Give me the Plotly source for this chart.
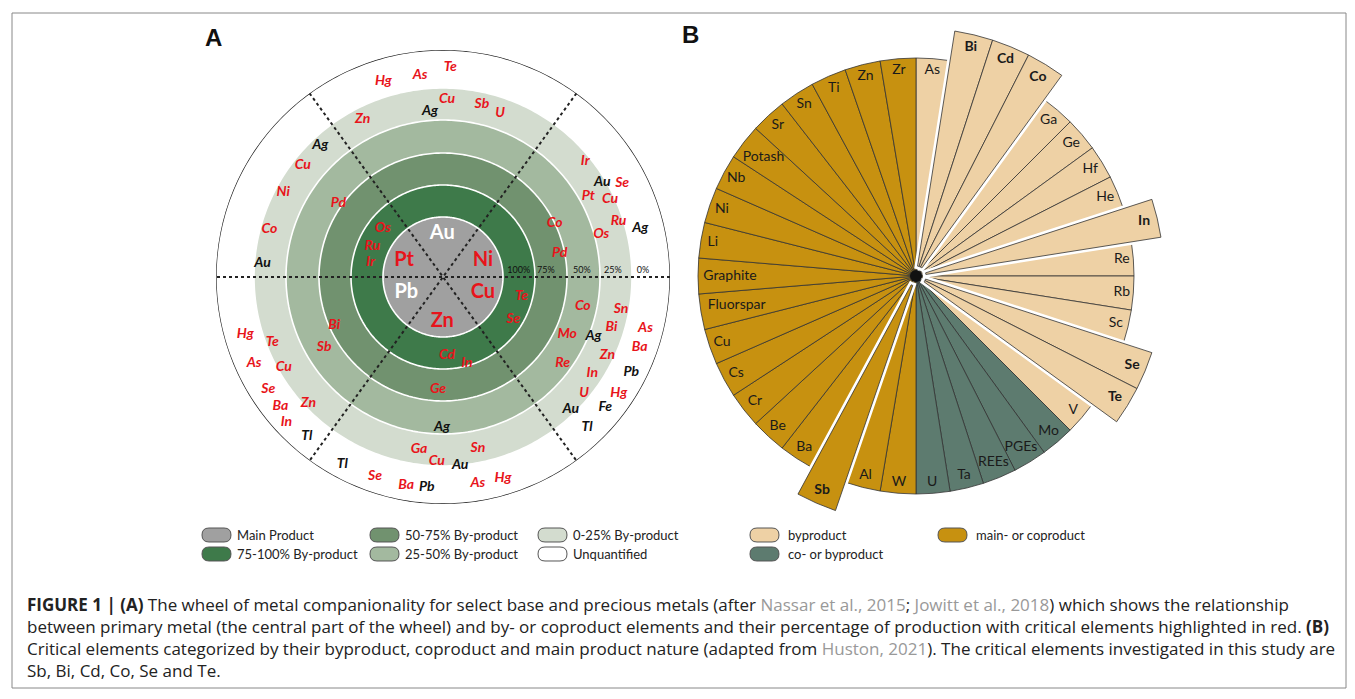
import numpy as np
import plotly.graph_objects as go

# page body has an 8px margin: figure is placed at (OX, OY) in the window
OX, OY = 8, 8
FW, FH = 1339, 683

# ---------------- Panel A data ----------------
ring_names = ['Unquantified', '0-25% By-product', '25-50% By-product',
              '50-75% By-product', '75-100% By-product', 'Main Product']
ring_outer = [227, 189, 157, 124, 92, 60]
ring_colors = ['#ffffff', '#d3dccf', '#a3b99f', '#71926f', '#3e7a4a', '#a0a0a0']

pct_labels = ['100%', '75%', '50%', '25%', '0%']
pct_theta = [4.6, 3.3, 2.5, 2.0, 1.7]
pct_r = [76, 103, 139, 170, 200]

divider_angles = [0, 54, 126]

main_names = ['Au', 'Ni', 'Cu', 'Zn', 'Pb', 'Pt']
main_critical = [0, 1, 1, 1, 0, 1]
main_theta = [91, 21.8, -21.8, -91, -156.6, 157.7]
main_r = [43, 43, 43, 45, 40, 42]

byp_names = ['Te', 'As', 'Hg', 'Cu', 'Ag', 'Sb', 'U', 'Zn',
             'Ag', 'Cu', 'Ni', 'Co', 'Au', 'Pd', 'Os', 'Ru', 'Ir',
             'Ir', 'Au', 'Se', 'Pt', 'Cu', 'Ru', 'Ag', 'Os', 'Co', 'Pd',
             'Te', 'Se', 'Co', 'Mo', 'Ag', 'Re', 'Sn', 'Bi', 'Zn', 'In', 'U', 'Au',
             'As', 'Ba', 'Pb', 'Hg', 'Fe', 'Tl',
             'Cd', 'In', 'Ge', 'Ag', 'Ga', 'Sn', 'Cu', 'Au', 'Tl', 'Se', 'Ba', 'Pb', 'As', 'Hg',
             'Bi', 'Sb', 'Hg', 'Te', 'As', 'Cu', 'Se', 'Ba', 'Zn', 'In', 'Tl']
byp_critical = [1, 1, 1, 1, 0, 1, 1, 1,
                0, 1, 1, 1, 0, 1, 1, 1, 1,
                1, 0, 1, 1, 1, 1, 0, 1, 1, 1,
                1, 1, 1, 1, 0, 1, 1, 1, 1, 1, 1, 0,
                1, 1, 0, 1, 0, 0,
                1, 1, 1, 0, 1, 1, 1, 0, 0, 1, 1, 0, 1, 1,
                1, 1, 1, 1, 1, 1, 1, 1, 1, 1, 0]
byp_theta = [88, 96.5, 107, 88.7, 94.5, 77.3, 70.7, 117,
             133, 141.6, 152, 164.6, 175.6, 144.8, 141.3, 156.4, 168.4,
             39, 30.6, 27.5, 28.9, 24.8, 17.4, 13.7, 15.2, 25.7, 11.6,
             -14.2, -31, -12.1, -25, -21.7, -36, -10.5, -16.8, -25.4, -33, -39.5, -46,
             -14.4, -19.8, -26.8, -33.6, -38.7, -46.2,
             -87, -74.6, -92.5, -90.4, -97.9, -78.5, -91.9, -84.8, -118.2, -108.8, -100, -94.4, -80.4, -73.4,
             -156.2, -149.5, -163.7, -158.9, -155.3, -150.5, -147.1, -141.4, -136.7, -137, -130.4]
byp_r = [210, 203, 204, 178, 166, 177, 173, 177,
         180, 179, 181, 180, 181, 128, 77, 77, 74,
         183, 185, 202, 166, 184, 184, 203, 164, 124, 119,
         81, 82, 143, 137, 162, 148, 181, 176, 182, 178, 183, 184,
         209, 209, 211, 211, 208, 208,
         79, 90, 113, 150, 174, 175, 185, 189, 213, 211, 212, 211, 209, 210,
         119, 138, 206, 183, 208, 183, 208, 208, 185, 214, 210]

# ---------------- Panel B data ----------------
b_names = ['As', 'Bi', 'Cd', 'Co', 'Ga', 'Ge', 'Hf', 'He', 'In', 'Re', 'Rb', 'Sc', 'Se', 'Te', 'V',
           'Mo', 'PGEs', 'REEs', 'Ta', 'U',
           'W', 'Al', 'Sb', 'Ba', 'Be', 'Cr', 'Cs', 'Cu', 'Fluorspar', 'Graphite', 'Li', 'Ni',
           'Nb', 'Potash', 'Sr', 'Sn', 'Ti', 'Zn', 'Zr']
b_group = ['byproduct'] * 15 + ['co- or byproduct'] * 5 + ['main- or coproduct'] * 19
b_critical = ['Bi', 'Cd', 'Co', 'In', 'Se', 'Te', 'Sb']
b_group_names = ['byproduct', 'co- or byproduct', 'main- or coproduct']
b_group_colors = ['#eed1a5', '#5d7b6f', '#c79110']

# ---------------- style / geometry ----------------
RED = '#e8141b'
CA = (443, 277)
RA = 227
CB = (916, 276)
RB_RANGE = 255
RB_MAIN = 218
RB_CRIT = 248
B_BASE = 10


def px(x, y):
    return (x - OX) / FW, 1 - (y - OY) / FH


def dom(c, r):
    xa, ya = px(c[0] - r, c[1] + r)
    xb, yb = px(c[0] + r, c[1] - r)
    return dict(x=[xa, xb], y=[ya, yb])


fig = go.Figure()

# ---- Panel A: rings as filled disks ----
circ = np.linspace(0, 360, 361)
for i, (nm, rr, col) in enumerate(zip(ring_names, ring_outer, ring_colors)):
    fig.add_trace(go.Scatterpolar(
        r=[rr] * len(circ), theta=circ, mode='lines', fill='toself', fillcolor=col,
        line=dict(color='#222222' if i == 0 else 'white', width=1.3 if i == 0 else 1.6),
        hoverinfo='skip', showlegend=False, subplot='polar'))

for a in divider_angles:
    fig.add_trace(go.Scatterpolar(
        r=[RA, 0, RA], theta=[a, 0, a + 180], mode='lines',
        line=dict(color='#222222', width=2, dash='dot'),
        hoverinfo='skip', showlegend=False, subplot='polar'))

fig.add_trace(go.Scatterpolar(
    r=main_r, theta=main_theta, mode='text', text=main_names,
    textfont=dict(family='Lato', size=20, weight='bold',
                  color=[RED if c else 'white' for c in main_critical]),
    hoverinfo='skip', showlegend=False, subplot='polar'))

fig.add_trace(go.Scatterpolar(
    r=byp_r, theta=byp_theta, mode='text', text=byp_names,
    textfont=dict(family='Lato', size=14, weight='bold', style='italic',
                  color=[RED if c else '#111111' for c in byp_critical]),
    hoverinfo='skip', showlegend=False, subplot='polar'))

fig.add_trace(go.Scatterpolar(
    r=pct_r, theta=pct_theta, mode='text', text=pct_labels,
    textfont=dict(family='Lato', size=9, color='#111111'),
    hoverinfo='skip', showlegend=False, subplot='polar'))

# ---- Panel B ----
n_right = sum(1 for g in b_group if g != 'main- or coproduct')
n_left = len(b_names) - n_right
b_width, b_theta = [], []
for i, g in enumerate(b_group):
    if g != 'main- or coproduct':
        w = 180 / n_right
        b_theta.append(w * (i + 0.5))
    else:
        w = 180 / n_left
        b_theta.append(180 + w * (i - n_right + 0.5))
    b_width.append(w)
b_color = [b_group_colors[b_group_names.index(g)] for g in b_group]
is_crit = [n in b_critical for n in b_names]

norm = [i for i in range(len(b_names)) if not is_crit[i]]
crit = [i for i in range(len(b_names)) if is_crit[i]]

fig.add_trace(go.Barpolar(
    r=[RB_MAIN] * len(norm), theta=[b_theta[i] for i in norm], width=[b_width[i] for i in norm],
    marker=dict(color=[b_color[i] for i in norm], line=dict(color='#333333', width=0.8)),
    hoverinfo='skip', showlegend=False, subplot='polar2'))
fig.add_trace(go.Barpolar(
    r=[RB_CRIT - B_BASE] * len(crit), base=[B_BASE] * len(crit),
    theta=[b_theta[i] for i in crit], width=[b_width[i] for i in crit],
    marker=dict(color=[b_color[i] for i in crit], line=dict(color='white', width=6)),
    hoverinfo='skip', showlegend=False, subplot='polar2'))
fig.add_trace(go.Barpolar(
    r=[RB_CRIT - B_BASE] * len(crit), base=[B_BASE] * len(crit),
    theta=[b_theta[i] for i in crit], width=[b_width[i] for i in crit],
    marker=dict(color=[b_color[i] for i in crit], line=dict(color='#333333', width=0.8)),
    hoverinfo='skip', showlegend=False, subplot='polar2'))

fig.add_trace(go.Scatterpolar(
    r=[0], theta=[0], mode='markers', marker=dict(color='#111111', size=12),
    hoverinfo='skip', showlegend=False, subplot='polar2'))

# labels B: centred, pulled inward so that the horizontal text box fits in its sector
lab_r, lab_text = [], []
for i, n in enumerate(b_names):
    t = np.radians(b_theta[i])
    w_txt = 7.0 * len(n)
    h_txt = 14
    r_fit = 243 if is_crit[i] else 214
    rr = r_fit - 0.5 * w_txt * abs(np.sin(t)) - 0.5 * h_txt * abs(np.cos(t))
    lab_r.append(rr)
    lab_text.append('<b>%s</b>' % n if is_crit[i] else n)
fig.add_trace(go.Scatterpolar(
    r=lab_r, theta=b_theta, mode='text', text=lab_text, textposition='middle center',
    textfont=dict(family='Lato', size=14, color='#1a1a1a'),
    hoverinfo='skip', showlegend=False, subplot='polar2'))

hidden_ax = dict(visible=False, showgrid=False, showline=False, showticklabels=False, ticks='')
fig.update_layout(
    width=FW, height=FH, margin=dict(l=0, r=0, t=0, b=0),
    paper_bgcolor='white', plot_bgcolor='white',
    polar=dict(domain=dom(CA, RA), bgcolor='rgba(0,0,0,0)',
               radialaxis=dict(range=[0, RA], **hidden_ax),
               angularaxis=dict(direction='counterclockwise', rotation=0, **hidden_ax)),
    polar2=dict(domain=dom(CB, RB_RANGE), bgcolor='rgba(0,0,0,0)', barmode='overlay',
                radialaxis=dict(range=[0, RB_RANGE], **hidden_ax),
                angularaxis=dict(direction='clockwise', rotation=90, **hidden_ax)),
)

shapes = []
annotations = []


def pill(x0, yc, col):
    w, h = 29, 14
    r = h / 2
    x1 = x0 + w
    y0, y1 = yc - h / 2, yc + h / 2

    def P(x, y):
        a, b = px(x, y)
        return '%.5f,%.5f' % (a, b)
    path = ('M' + P(x0 + r, y0) + ' L' + P(x1 - r, y0) + ' Q' + P(x1, y0) + ' ' + P(x1, yc) +
            ' Q' + P(x1, y1) + ' ' + P(x1 - r, y1) + ' L' + P(x0 + r, y1) +
            ' Q' + P(x0, y1) + ' ' + P(x0, yc) + ' Q' + P(x0, y0) + ' ' + P(x0 + r, y0) + ' Z')
    return dict(type='path', xref='paper', yref='paper', path=path, fillcolor=col,
                line=dict(color='#555555', width=1))


legA = list(reversed(ring_names))
legA_col = list(reversed(ring_colors))
colsA = [202, 370, 538]
rows = [535, 554]
for k, (nm, col) in enumerate(zip(legA, legA_col)):
    cx, ry = colsA[k // 2], rows[k % 2]
    shapes.append(pill(cx, ry, col))
    xx, yy = px(cx + 33, ry)
    annotations.append(dict(x=xx, y=yy, xref='paper', yref='paper', text=nm, showarrow=False,
                            xanchor='left', yanchor='middle',
                            font=dict(family='Lato', size=13, color='#222222')))

legB_order = ['byproduct', 'co- or byproduct', 'main- or coproduct']
colsB = [750, 938]
for k, nm in enumerate(legB_order):
    cx, ry = colsB[k // 2], rows[k % 2]
    col = b_group_colors[b_group_names.index(nm)]
    shapes.append(pill(cx, ry, col))
    xx, yy = px(cx + 36, ry)
    annotations.append(dict(x=xx, y=yy, xref='paper', yref='paper', text=nm, showarrow=False,
                            xanchor='left', yanchor='middle',
                            font=dict(family='Lato', size=13, color='#222222')))

for t, (x, y) in [('A', (213, 37)), ('B', (690, 35))]:
    xx, yy = px(x, y)
    annotations.append(dict(x=xx, y=yy, xref='paper', yref='paper', text='<b>%s</b>' % t,
                            showarrow=False, xanchor='center', yanchor='middle',
                            font=dict(family='Liberation Sans', size=24, color='#111111')))

x0, y0 = px(12, 13)
x1, y1 = px(1346, 688)
shapes.append(dict(type='rect', xref='paper', yref='paper', x0=x0, y0=y1, x1=x1, y1=y0,
                   line=dict(color='#888888', width=1), fillcolor='rgba(0,0,0,0)'))

G = '<span style="color:#999999">%s</span>'
caption = [
    '<b>FIGURE 1 | (A)</b> The wheel of metal companionality for select base and precious metals (after '
    + G % 'Nassar et al., 2015' + '; ' + G % 'Jowitt et al., 2018' + ') which shows the relationship',
    'between primary metal (the central part of the wheel) and by- or coproduct elements and their '
    'percentage of production with critical elements highlighted in red. <b>(B)</b>',
    'Critical elements categorized by their byproduct, coproduct and main product nature (adapted from '
    + G % 'Huston, 2021' + '). The critical elements investigated in this study are',
    'Sb, Bi, Cd, Co, Se and Te.',
]
xx, yy = px(25, 591)
annotations.append(dict(x=xx, y=yy, xref='paper', yref='paper', text='<br>'.join(caption),
                        showarrow=False, xanchor='left', yanchor='top', align='left',
                        font=dict(family='Open Sans', size=17, color='#222222')))

fig.update_layout(shapes=shapes, annotations=annotations)
fig.write_html('out.html')
